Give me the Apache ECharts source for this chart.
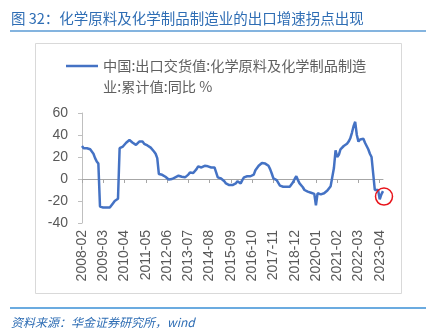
<!DOCTYPE html>
<html>
<head>
<meta charset="utf-8">
<script src="https://cdn.jsdelivr.net/npm/echarts@6/dist/echarts.min.js"></script>
<style>
  html, body { margin: 0; padding: 0; background: #fff; }
  #chart { width: 430px; height: 328px; }
</style>
</head>
<body>
<div id="chart"></div>
<script>
// Monthly categories from 2008-02 to 2023-06
const startYear = 2008;
const startMonth = 2;
const monthCount = 185;
const months = [];
for (let k = 0; k < monthCount; k++) {
  const m = startMonth - 1 + k;
  const y = startYear + Math.floor(m / 12);
  const mm = (m % 12) + 1;
  months.push(y + '-' + (mm < 10 ? '0' + mm : mm));
}

// 中国:出口交货值:化学原料及化学制品制造业:累计值:同比 (%)
const exportYoY = [
  30, 28, 28, 28, 27.5, 27, 26, 23, 19, 16, 14,
  -25, -26, -26, -26.5, -26, -27, -26, -24.5, -22, -20, -19, -18,
  28, 29, 29.5, 31, 33, 34.5, 35.5, 35, 33, 32, 31, 32.5, 34,
  33, 34, 32, 31, 30.5, 29.5, 28.5, 27, 25, 23, 19,
  4.5, 4, 3.8, 3, 2, 0.5, -0.5, -1.5, 0, 1, 1.5, 2.5,
  3, 4.5, 2, 1.5, 1.5, 1.5, 4, 6, 5.5, 5.5, 7, 9,
  11.5, 10.5, 10.5, 11.5, 12, 13.5, 11.5, 10.5, 10.5, 10.5, 10.5, 6,
  1.5, 1, 0.5, -0.5, -2, -4, -5, -5.5, -5.5, -5.5, -5, -4,
  -2, -2.5, -4, -1, 1.5, 2, 2.5, 2.5, 2.5, 2.5, 4, 8,
  10, 12, 13.5, 14.5, 14, 14, 13, 12, 9, 5, 0.5, 0,
  -1, -1, -6, -7, -7, -7, -7, -6.5, -7, -5.5, -3, 0,
  2.5, -1, -4, -5.5, -7.5, -10, -11, -11.5, -12, -12.5, -13, -13.5,
  -24, -13, -12.5, -14, -15, -13, -12, -10.5, -9, -6.5, -5, 10,
  26, 20, 22, 27, 28.5, 30, 31, 32, 34, 37, 42, 48,
  52, 40, 34, 36, 37, 36.5, 33, 30, 27, 23, 20, 5,
  -10, -10, -10, -18.5, -14, -11
];

const yTicks = { min: -40, max: 60, interval: 20 };
const titleText = '图 32：化学原料及化学制品制造业的出口增速拐点出现';
const legendLines = ['中国:出口交货值:化学原料及化学制品制造', '业:累计值:同比 %'];
const sourceText = '资料来源：华金证券研究所，wind';
const turnValue = -16;

const latin = '"Liberation Sans", Arial, sans-serif';
const cjk = '"Noto Sans CJK SC", "Liberation Sans", sans-serif';
const grey = '#595959';
const blue = '#2e6db4';

const chart = echarts.init(document.getElementById('chart'), null, { renderer: 'canvas' });

chart.setOption({
  animation: false,
  backgroundColor: '#fff',
  grid: { left: 82, right: 47, top: 113, bottom: 105, containLabel: false },
  xAxis: [
    {
      // zero line with tick marks
      type: 'category',
      data: months,
      position: 'top',
      boundaryGap: false,
      axisLine: { show: true, onZero: true, lineStyle: { color: '#a6a6a6', width: 1 } },
      axisTick: { show: true, inside: true, interval: 12, length: 4, lineStyle: { color: '#a6a6a6' } },
      axisLabel: { show: false },
      splitLine: { show: false }
    },
    {
      // date labels along the bottom
      type: 'category',
      data: months,
      position: 'bottom',
      boundaryGap: false,
      axisLine: { show: false, onZero: false },
      axisTick: { show: false },
      axisLabel: {
        show: true,
        interval: 12,
        rotate: 90,
        margin: 7,
        color: grey,
        fontSize: 14,
        fontFamily: latin
      },
      splitLine: { show: false }
    }
  ],
  yAxis: {
    type: 'value',
    min: yTicks.min,
    max: yTicks.max,
    interval: yTicks.interval,
    axisLine: { show: true, lineStyle: { color: '#bfbfbf' } },
    axisTick: { show: true, length: 4, lineStyle: { color: '#bfbfbf' } },
    axisLabel: { color: grey, fontSize: 14, fontFamily: latin, margin: 14 },
    splitLine: { show: false }
  },
  series: [
    {
      name: '中国:出口交货值:化学原料及化学制品制造业:累计值:同比',
      type: 'line',
      xAxisIndex: 0,
      data: exportYoY,
      symbol: 'none',
      lineStyle: { color: '#4472c4', width: 2.5 },
      itemStyle: { color: '#4472c4' },
      markPoint: {
        symbol: 'circle',
        symbolSize: 17,
        symbolOffset: [1, 0],
        silent: true,
        label: { show: false },
        itemStyle: { color: 'rgba(0,0,0,0)', borderColor: '#e8141b', borderWidth: 1.5 },
        data: [{ coord: [months[months.length - 1], turnValue] }]
      }
    }
  ],
  graphic: [
    {
      type: 'text',
      left: 11,
      top: 11,
      style: { text: titleText, fill: blue, font: '14.5px ' + cjk }
    },
    {
      type: 'line',
      shape: { x1: 10, y1: 31, x2: 426, y2: 31 },
      style: { stroke: '#5b9bd5', lineWidth: 1.5 }
    },
    {
      type: 'rect',
      shape: { x: 35.5, y: 43.5, width: 366, height: 250 },
      style: { fill: 'none', stroke: '#d9d9d9', lineWidth: 1 },
      z: -1
    },
    {
      type: 'line',
      shape: { x1: 66, y1: 66, x2: 98, y2: 66 },
      style: { stroke: '#4472c4', lineWidth: 2.5 }
    },
    {
      type: 'text',
      x: 103,
      y: 66,
      style: { text: legendLines[0], fill: '#606060', font: '14.2px ' + cjk, verticalAlign: 'middle' }
    },
    {
      type: 'text',
      x: 103,
      y: 87,
      style: { text: legendLines[1], fill: '#606060', font: '14.2px ' + cjk, verticalAlign: 'middle' }
    },
    {
      type: 'line',
      shape: { x1: 10, y1: 308, x2: 426, y2: 308 },
      style: { stroke: '#3a8fd6', lineWidth: 1.5 }
    },
    {
      type: 'text',
      x: 11,
      y: 322,
      style: { text: sourceText, fill: blue, font: 'italic 12px ' + cjk, verticalAlign: 'middle' }
    }
  ]
});
</script>
</body>
</html>
